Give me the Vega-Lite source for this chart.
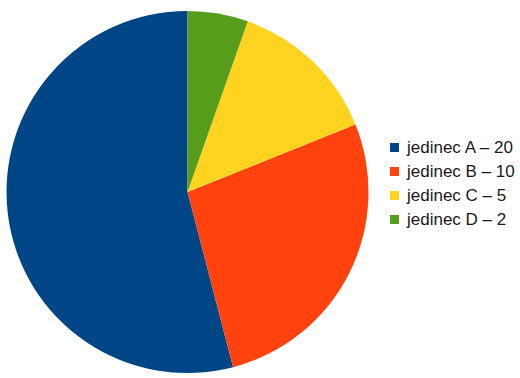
{
  "$schema": "https://vega.github.io/schema/vega-lite/v6.json",
  "width": 375,
  "height": 370,
  "padding": {"left": 0, "top": 7, "right": 145, "bottom": 1},
  "autosize": {"type": "none"},
  "background": "white",
  "view": {"stroke": null},
  "data": {
    "values": [
      {"jedinec": "jedinec A – 20", "pocet": 20, "poradi": 4},
      {"jedinec": "jedinec B – 10", "pocet": 10, "poradi": 3},
      {"jedinec": "jedinec C – 5", "pocet": 5, "poradi": 2},
      {"jedinec": "jedinec D – 2", "pocet": 2, "poradi": 1}
    ]
  },
  "mark": {"type": "arc", "radius": 181},
  "encoding": {
    "theta": {"field": "pocet", "type": "quantitative", "stack": true},
    "order": {"field": "poradi", "type": "quantitative", "sort": "ascending"},
    "color": {
      "field": "jedinec",
      "type": "nominal",
      "scale": {
        "domain": ["jedinec A – 20", "jedinec B – 10", "jedinec C – 5", "jedinec D – 2"],
        "range": ["#004586", "#ff420e", "#ffd320", "#579d1c"]
      },
      "legend": {
        "title": null,
        "orient": "none",
        "legendX": 386,
        "legendY": 132,
        "symbolType": "square",
        "symbolSize": 81,
        "symbolStrokeWidth": 0,
        "labelFont": "Liberation Sans",
        "labelFontSize": 17,
        "labelColor": "#1a1a1a",
        "labelOffset": 4,
        "rowPadding": 6,
        "labelLimit": 200
      }
    }
  }
}
